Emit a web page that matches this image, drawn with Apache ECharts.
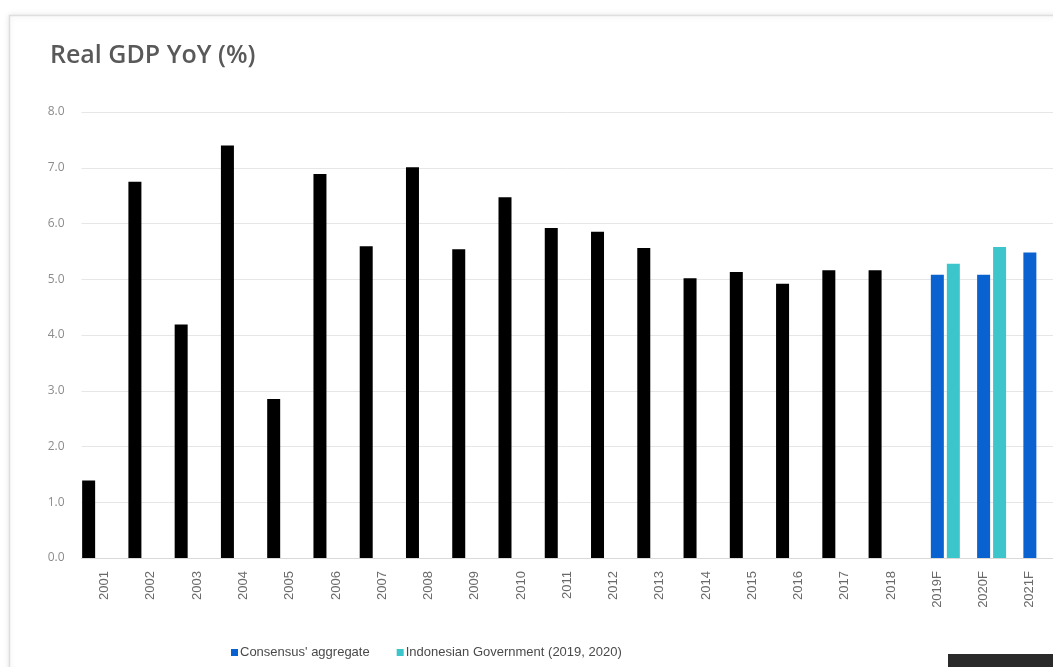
<!DOCTYPE html>
<html>
<head>
<meta charset="utf-8">
<script src="https://cdn.jsdelivr.net/npm/echarts@6/dist/echarts.min.js"></script>
<style>
html,body{margin:0;padding:0;background:#fff;}
#chart{width:1053px;height:667px;}
</style>
</head>
<body>
<div id="chart"></div>
<script>
const categories = ['2001','2002','2003','2004','2005','2006','2007','2008','2009','2010','2011','2012','2013','2014','2015','2016','2017','2018','2019F','2020F','2021F'];
const actualValues = [1.39,6.75,4.19,7.40,2.85,6.89,5.59,7.01,5.54,6.47,5.92,5.85,5.56,5.02,5.13,4.92,5.16,5.16,null,null,null];
const consensusValues = [null,null,null,null,null,null,null,null,null,null,null,null,null,null,null,null,null,null,5.08,5.08,5.48];
const governmentValues = [null,null,null,null,null,null,null,null,null,null,null,null,null,null,null,null,null,null,5.28,5.58,null];
const yTicks = {min:0, max:8, interval:1};
const titleText = 'Real GDP YoY (%)';
const seriesNames = ['Actual', "Consensus' aggregate", 'Indonesian Government (2019, 2020)'];

const chart = echarts.init(document.getElementById('chart'), null, {renderer:'canvas'});
chart.setOption({
  backgroundColor:'#ffffff',
  animation:false,
  graphic:[
    {type:'rect', z:-10, shape:{x:9.5, y:15.5, width:1100, height:700},
     style:{fill:'#ffffff', stroke:'#dedede', lineWidth:1.5, shadowBlur:6, shadowColor:'rgba(0,0,0,0.10)'}},
    {type:'rect', z:100, shape:{x:948, y:654, width:110, height:20},
     style:{fill:'#2a2a2a'}}
  ],
  title:{
    text:titleText, left:45, top:38,
    textStyle:{fontFamily:'Open Sans', fontWeight:600, fontSize:25, color:'#595959'}
  },
  legend:{
    data:[seriesNames[1], seriesNames[2]],
    left:226, top:641,
    icon:'rect', itemWidth:7, itemHeight:7, itemGap:27,
    textStyle:{fontFamily:'Liberation Sans', fontSize:13, color:'#4a4a4a', padding:[0,0,0,-3]}
  },
  grid:{left:81.5, right:-6, top:112, bottom:109, containLabel:false},
  xAxis:{
    type:'category', data:categories,
    axisLine:{lineStyle:{color:'#d9d9d9'}},
    axisTick:{show:false},
    axisLabel:{rotate:90, margin:13, fontFamily:'Liberation Sans', fontSize:13, color:'#6a6a6a', interval:0}
  },
  yAxis:{
    type:'value', min:yTicks.min, max:yTicks.max, interval:yTicks.interval,
    axisLine:{show:false}, axisTick:{show:false},
    axisLabel:{margin:17, fontFamily:'Open Sans', fontSize:12, color:'#8c8c8c', formatter:v=>v.toFixed(1)},
    splitLine:{lineStyle:{color:'#e6e6e6', width:1}}
  },
  series:[
    {name:seriesNames[0], type:'bar', data:actualValues, barWidth:13, barGap:'23%', itemStyle:{color:'#000000'}},
    {name:seriesNames[1], type:'bar', data:consensusValues, barWidth:13, barGap:'23%', itemStyle:{color:'#0a62d0'}},
    {name:seriesNames[2], type:'bar', data:governmentValues, barWidth:13, barGap:'23%', itemStyle:{color:'#3cc6cc'}}
  ]
});
</script>
</body>
</html>
